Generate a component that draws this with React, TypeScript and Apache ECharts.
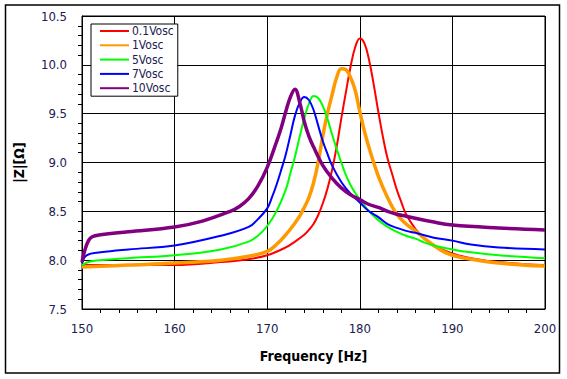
import React, { useEffect, useRef } from "react";
import * as echarts from "echarts";

const seriesNames = ["0.1Vosc", "1Vosc", "5Vosc", "7Vosc", "10Vosc"];
const seriesColors = ["#FF0000", "#FF9900", "#00FF00", "#0000FF", "#800080"];
const seriesWidths = [2, 3.5, 2, 2, 3.5];

const freqRed = [150, 155, 160, 165, 168, 170, 172, 173, 174, 174.5, 175, 175.5, 176, 176.5, 177, 177.5, 178, 178.5, 179, 179.5, 180, 180.5, 181, 181.5, 182, 182.5, 183, 183.5, 184, 184.5, 185, 186, 187, 188, 190, 192, 195, 200];
const zRed = [7.95, 7.95, 7.95, 7.98, 8.01, 8.05, 8.13, 8.19, 8.26, 8.31, 8.37, 8.46, 8.58, 8.73, 8.92, 9.16, 9.45, 9.72, 9.98, 10.18, 10.27, 10.22, 10.05, 9.80, 9.52, 9.26, 9.04, 8.88, 8.72, 8.59, 8.47, 8.32, 8.22, 8.15, 8.07, 8.02, 7.98, 7.95];

const freqOrange = [150, 155, 160, 165, 168, 170, 171, 172, 173, 173.5, 174, 174.5, 175, 175.5, 176, 176.5, 177, 177.5, 178, 178.5, 179, 179.5, 180, 180.5, 181, 182, 183, 184, 185, 186, 187, 188, 189, 190, 192, 195, 200];
const zOrange = [7.93, 7.95, 7.97, 8.0, 8.04, 8.09, 8.16, 8.26, 8.38, 8.45, 8.54, 8.64, 8.79, 9.0, 9.27, 9.50, 9.69, 9.87, 9.96, 9.95, 9.87, 9.74, 9.52, 9.32, 9.15, 8.86, 8.64, 8.47, 8.37, 8.30, 8.22, 8.15, 8.09, 8.05, 8.01, 7.97, 7.94];

const freqGreen = [150, 151, 155, 160, 165, 168, 169, 170, 171, 172, 172.5, 173, 173.5, 174, 174.5, 175, 175.5, 176, 176.5, 177, 177.5, 178, 178.5, 179, 179.5, 180, 181, 182, 183, 184, 185, 186, 187, 188, 190, 192, 195, 200];
const zGreen = [7.95, 7.99, 8.02, 8.05, 8.11, 8.19, 8.25, 8.35, 8.50, 8.72, 8.89, 9.06, 9.26, 9.45, 9.60, 9.68, 9.66, 9.58, 9.45, 9.29, 9.14, 9.0, 8.87, 8.77, 8.69, 8.62, 8.50, 8.41, 8.34, 8.29, 8.25, 8.22, 8.18, 8.15, 8.11, 8.08, 8.05, 8.02];

const freqBlue = [150, 150.5, 152, 155, 160, 165, 168, 169, 170, 170.5, 171, 171.5, 172, 172.5, 173, 173.5, 174, 174.5, 175, 175.5, 176, 176.5, 177, 178, 179, 180, 181, 182, 183, 184, 185, 186, 188, 190, 192, 195, 200];
const zBlue = [7.97, 8.05, 8.08, 8.11, 8.15, 8.25, 8.34, 8.42, 8.53, 8.64, 8.77, 8.92, 9.08, 9.28, 9.48, 9.61, 9.67, 9.64, 9.54, 9.38, 9.22, 9.09, 8.97, 8.80, 8.68, 8.59, 8.50, 8.44, 8.37, 8.33, 8.30, 8.28, 8.23, 8.20, 8.16, 8.13, 8.11];

const freqPurple = [150, 150.3, 150.7, 151.1, 152, 155, 160, 163, 166, 167, 168, 169, 170, 171, 171.5, 172, 172.5, 173, 173.5, 174, 174.5, 175, 176, 177, 178, 179, 180, 181, 182, 183, 184, 185, 188, 190, 195, 200];
const zPurple = [7.98, 8.10, 8.20, 8.24, 8.26, 8.29, 8.34, 8.40, 8.50, 8.55, 8.63, 8.76, 8.95, 9.21, 9.35, 9.52, 9.67, 9.75, 9.62, 9.42, 9.27, 9.16, 8.97, 8.84, 8.74, 8.67, 8.62, 8.57, 8.54, 8.50, 8.47, 8.45, 8.39, 8.36, 8.33, 8.31];

const freqs = [freqRed, freqOrange, freqGreen, freqBlue, freqPurple];
const zs = [zRed, zOrange, zGreen, zBlue, zPurple];

const FONT = 'Tahoma, "DejaVu Sans Condensed", "DejaVu Sans", sans-serif';
const LABEL_COLOR = "#202050";

export default function App() {
  const ref = useRef<HTMLDivElement>(null);
  useEffect(() => {
    if (!ref.current) return;
    const chart = echarts.init(ref.current, null, { renderer: "svg" });
    chart.setOption({
      animation: false,
      backgroundColor: "#ffffff",
      grid: {
        left: 82,
        right: 22,
        top: 16,
        bottom: 70,
        show: true,
        borderColor: "#000",
        borderWidth: 1,
        backgroundColor: "transparent",
      },
      graphic: [
        {
          type: "rect",
          shape: { x: 5.5, y: 5, width: 554, height: 368 },
          style: { fill: "none", stroke: "#000", lineWidth: 1.5 },
          silent: true,
        },
      ],
      legend: {
        left: 91,
        top: 24,
        orient: "vertical",
        backgroundColor: "#fff",
        borderColor: "#000",
        borderWidth: 1,
        padding: [1, 4, 2, 8],
        itemWidth: 29,
        itemHeight: 14,
        itemGap: 2.3,
        itemStyle: { opacity: 0 },
        textStyle: { fontFamily: FONT, fontSize: 12, color: LABEL_COLOR, padding: [0, 0, 0, -2] },
        data: seriesNames,
      },
      xAxis: {
        type: "value",
        min: 150,
        max: 200,
        interval: 10,
        name: "Frequency [Hz]",
        nameLocation: "middle",
        nameGap: 40,
        nameTextStyle: { fontFamily: FONT, fontSize: 14, fontWeight: "bold", color: "#000" },
        axisLine: { show: true, lineStyle: { color: "#000", width: 1 } },
        axisTick: { show: false },
        minorTick: { show: true, splitNumber: 5, length: 4, lineStyle: { color: "#000", width: 1 } },
        axisLabel: { fontFamily: FONT, fontSize: 13, color: LABEL_COLOR, margin: 13 },
        splitLine: { show: true, lineStyle: { color: "#000", width: 1 } },
      },
      yAxis: {
        type: "value",
        min: 7.5,
        max: 10.5,
        interval: 0.5,
        name: "|Z|[Ω]",
        nameLocation: "middle",
        nameGap: 56,
        nameRotate: 90,
        nameTextStyle: { fontFamily: FONT, fontSize: 14, fontWeight: "bold", color: "#000" },
        axisLine: { show: true, lineStyle: { color: "#000", width: 1 } },
        axisTick: { show: false },
        minorTick: { show: true, splitNumber: 5, length: 4, lineStyle: { color: "#000", width: 1 } },
        axisLabel: {
          fontFamily: FONT,
          fontSize: 13,
          color: LABEL_COLOR,
          margin: 15,
          formatter: (v: number) => v.toFixed(1),
        },
        splitLine: { show: true, lineStyle: { color: "#000", width: 1 } },
      },
      series: seriesNames.map((name, i) => ({
        name,
        type: "line",
        data: freqs[i].map((f, j) => [f, zs[i][j]]),
        showSymbol: false,
        symbol: "none",
        smooth: 0.4,
        color: seriesColors[i],
        lineStyle: { color: seriesColors[i], width: seriesWidths[i] },
      })),
    });
    return () => chart.dispose();
  }, []);
  return (
    <div
      ref={ref}
      style={{ position: "fixed", left: 0, top: 0, width: 567, height: 379, background: "#fff" }}
    />
  );
}
